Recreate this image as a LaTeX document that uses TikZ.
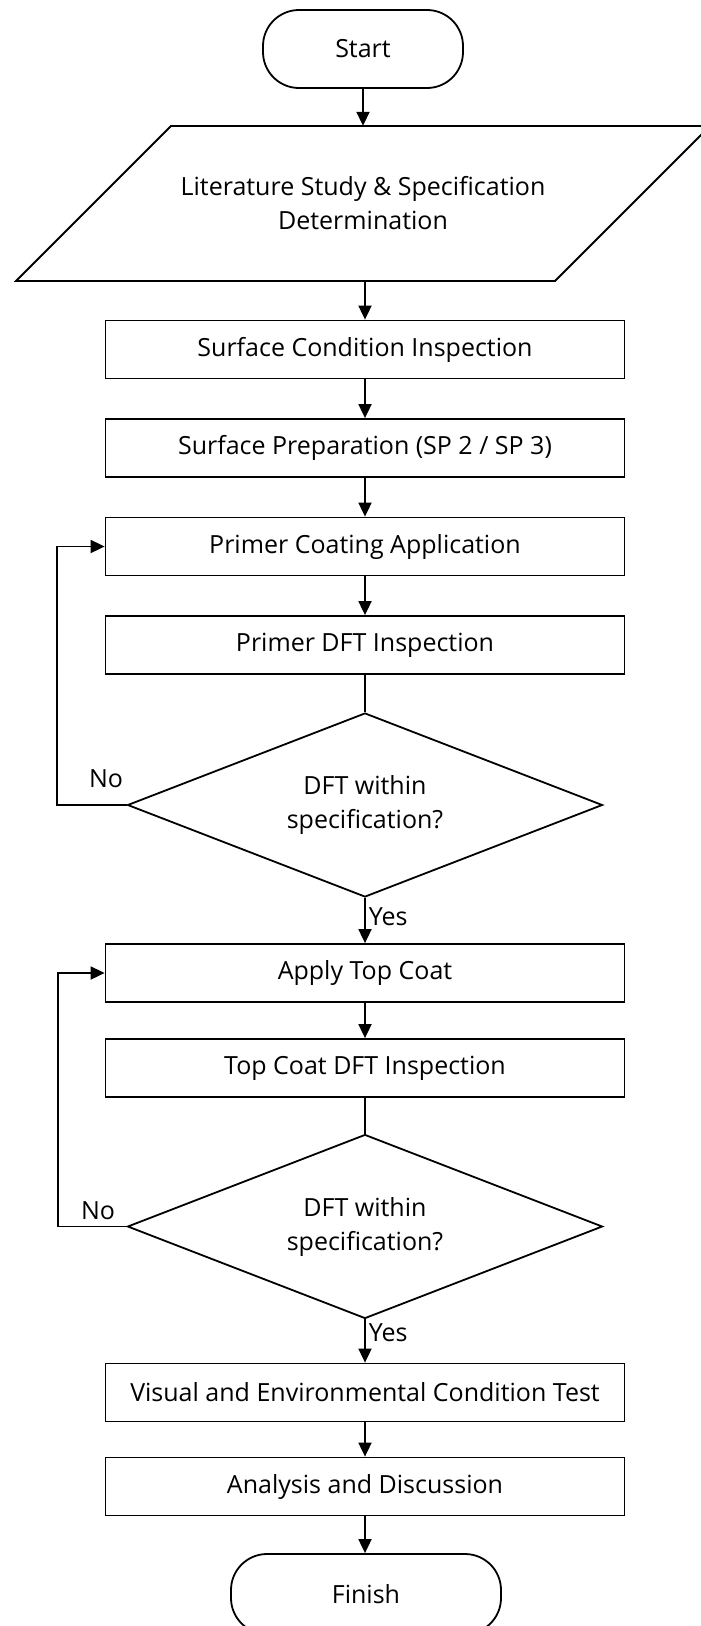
\documentclass[tikz,border=0pt]{standalone}
\usepackage{fontspec}
\setmainfont{Open Sans}
\usetikzlibrary{arrows.meta,shapes.geometric}
\begin{document}
\begin{tikzpicture}[x=1pt,y=-1pt,
  every node/.style={font=\fontsize{25}{34}\selectfont},
  ln/.style={line width=1.8pt},
  arr/.style={ln,-{Triangle[length=14pt,width=13pt]}},
  procbox/.style={draw,line width=1.8pt,minimum width=519pt,minimum height=58pt,inner sep=0pt},
  term/.style={draw,line width=1.8pt,rounded corners=36pt,inner sep=0pt},
  decide/.style={draw,shape=diamond,line width=1.8pt,minimum width=475pt,minimum height=184pt,inner sep=0pt,aspect=2.58,align=center}
]
\fill[white] (0,0) rectangle (701,1626);
\useasboundingbox (0,0) rectangle (701,1626);

\node[term,minimum width=200pt,minimum height=78pt] (start) at (363,49) {Start};
\draw[ln] (171,126) -- (710,126) -- (555,281) -- (16,281) -- cycle;
\node[minimum width=380pt,minimum height=155pt,inner sep=0pt,align=center] (lit) at (363,203.5) {Literature Study \& Specification\\Determination};
\node[procbox] (b1) at (365,349.5) {Surface Condition Inspection};
\node[procbox] (b2) at (365,448) {Surface Preparation (SP 2 / SP 3)};
\node[procbox] (b3) at (365,546.5) {Primer Coating Application};
\node[procbox] (b4) at (365,645) {Primer DFT Inspection};
\node[decide] (d1) at (365,805) {DFT within\\specification?};
\node[procbox] (b5) at (365,973) {Apply Top Coat};
\node[procbox] (b6) at (365,1068) {Top Coat DFT Inspection};
\node[decide] (d2) at (365,1226.5) {DFT within\\specification?};
\node[procbox] (b7) at (365,1392.5) {Visual and Environmental Condition Test};
\node[procbox] (b8) at (365,1486.5) {Analysis and Discussion};
\node[term,minimum width=270pt,minimum height=80pt] (finish) at (366,1594) {Finish};

\draw[arr] (start.south) -- (start.south |- lit.north);
\draw[arr] (b1.north |- lit.south) -- (b1.north);
\draw[arr] (b1) -- (b2);
\draw[arr] (b2) -- (b3);
\draw[arr] (b3) -- (b4);
\draw[ln] (b4.south) -- (d1.north);
\draw[arr] (d1.south) -- node[right,pos=0.42,inner sep=3pt] (yes1) {Yes} (d1.south |- b5.north);
\draw[arr] (b5) -- (b6);
\draw[ln] (b6.south) -- (d2.north);
\draw[arr] (d2.south) -- node[right,pos=0.30,inner sep=3pt] (yes2) {Yes} (d2.south |- b7.north);
\draw[arr] (b7) -- (b8);
\draw[arr] (b8.south) -- (b8.south |- finish.north);
\draw[arr] (d1.west) -- ++(-70,0) |- (b3.west);
\draw[arr] (d2.west) -- ++(-69,0) |- (b5.west);
\node (no1) at (106,779) {No};
\node (no2) at (98,1211) {No};
\end{tikzpicture}
\end{document}
